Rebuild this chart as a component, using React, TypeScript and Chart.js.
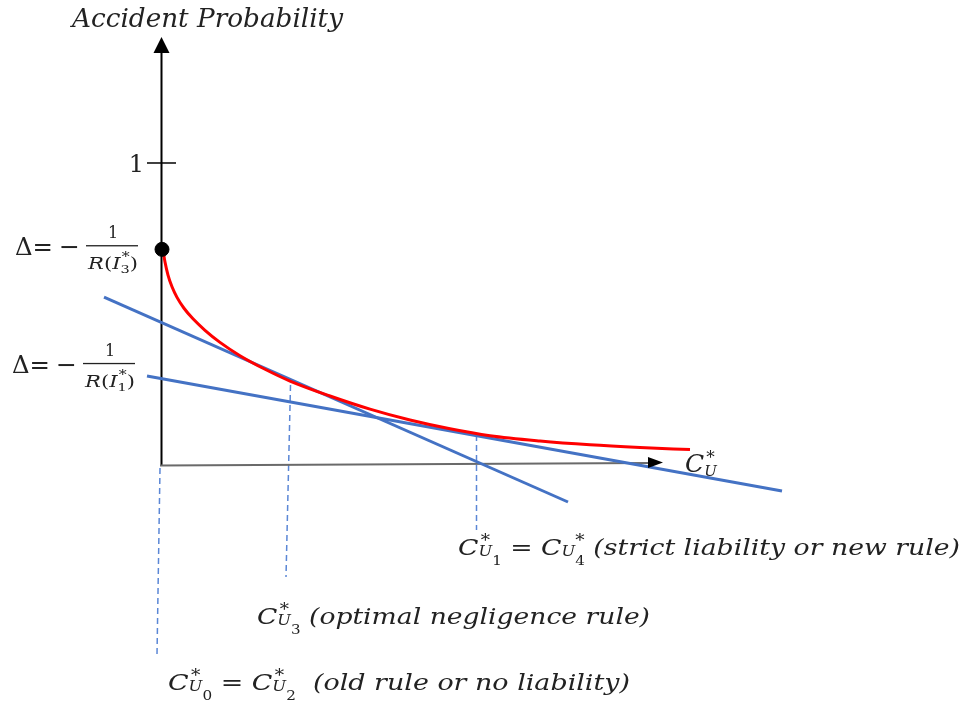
import React, { useEffect, useRef } from "react";
import { Chart, registerables } from "chart.js";

Chart.register(...registerables);

// ---- Data (x: unit cost of care C_U, y: accident probability) ----
const curveX = [0.03, 0.07, 0.13, 0.21, 0.31, 0.45, 0.63, 0.87, 1.17, 1.57, 2.07, 2.57, 3.37, 4.17, 4.97, 5.77, 6.57, 7.57, 8.57, 9.57, 10.57];
const curveY = [0.712, 0.672, 0.629, 0.59, 0.555, 0.519, 0.484, 0.446, 0.406, 0.362, 0.317, 0.278, 0.2285, 0.185, 0.149, 0.12, 0.097, 0.0795, 0.067, 0.058, 0.051];
const steepLineX = [-1.15, 8.13];
const steepLineY = [0.556, -0.1225];
const flatLineX = [-0.29, 12.41];
const flatLineY = [0.295, -0.086];
const guide0X = [-0.03, -0.09];
const guide0Y = [-0.01, -0.629];
const guide3X = [2.58, 2.49];
const guide3Y = [0.265, -0.371];
const guide1X = [6.3, 6.3];
const guide1Y = [0.099, -0.215];
const xAxisX = [-0.03, 9.75];
const xAxisY = [-0.0017, 0.007];
const xArrowTip = [10.03, 0.0083];
const yAxisX = [0, 0];
const yAxisY = [0, 1.38];
const yArrowTip = [0, 1.417];
const tickX = [-0.29, 0.29];
const tickY = [1, 1];
const tickLabels = ["1"];
const dotX = [0.01];
const dotY = [0.714];

const X_MIN = -3.23;
const X_MAX = 16.15;
const Y_MIN = -0.8046;
const Y_MAX = 1.5397;

const FAMILY = '"DejaVu Serif", serif';
const TEXT = "#222222";
const BLUE = "#4472C4";
const GUIDE = "#5b87d6";

const zip = (xs: number[], ys: number[]) => xs.map((x, i) => ({ x, y: ys[i] }));

type Run = { t: string; s: number; dy?: number; it?: boolean; adv?: boolean; dx?: number };

function fontOf(r: Run) {
  return `${r.it ? "italic " : ""}${r.s}px ${FAMILY}`;
}
function runsWidth(ctx: CanvasRenderingContext2D, runs: Run[]) {
  let w = 0;
  for (const r of runs) {
    ctx.font = fontOf(r);
    const m = ctx.measureText(r.t).width;
    if (r.adv !== false) w += m + (r.dx || 0);
  }
  return w;
}
function drawRuns(ctx: CanvasRenderingContext2D, x: number, y: number, runs: Run[], targetW?: number) {
  const w = runsWidth(ctx, runs);
  const k = targetW ? targetW / w : 1;
  ctx.save();
  ctx.translate(x, y);
  ctx.scale(k, 1);
  ctx.fillStyle = TEXT;
  ctx.textBaseline = "alphabetic";
  ctx.textAlign = "left";
  let cx = 0;
  for (const r of runs) {
    ctx.font = fontOf(r);
    const m = ctx.measureText(r.t).width;
    ctx.fillText(r.t, cx + (r.dx || 0), r.dy || 0);
    if (r.adv !== false) cx += m + (r.dx || 0);
  }
  ctx.restore();
}

function arrowHead(ctx: CanvasRenderingContext2D, fx: number, fy: number, tx: number, ty: number, len: number, half: number) {
  const dx = tx - fx;
  const dy = ty - fy;
  const d = Math.hypot(dx, dy) || 1;
  const ux = dx / d;
  const uy = dy / d;
  const bx = tx - ux * len;
  const by = ty - uy * len;
  ctx.beginPath();
  ctx.moveTo(tx, ty);
  ctx.lineTo(bx - uy * half, by + ux * half);
  ctx.lineTo(bx + uy * half, by - ux * half);
  ctx.closePath();
  ctx.fillStyle = "#000";
  ctx.fill();
}

const annotations = {
  id: "annotations",
  afterDatasetsDraw(chart: any) {
    const ctx: CanvasRenderingContext2D = chart.ctx;
    const sx = chart.scales.x;
    const sy = chart.scales.y;
    const px = (v: number) => sx.getPixelForValue(v);
    const py = (v: number) => sy.getPixelForValue(v);

    // axis arrow heads
    arrowHead(ctx, px(xAxisX[0]), py(xAxisY[0]), px(xArrowTip[0]), py(xArrowTip[1]), 15, 5.5);
    arrowHead(ctx, px(yAxisX[0]), py(yAxisY[0]), px(yArrowTip[0]), py(yArrowTip[1]), 16, 8);

    // axis title
    drawRuns(ctx, px(-1.79), py(1.45), [{ t: "Accident Probability", s: 26, it: true }], 271);

    // tick label "1"
    ctx.save();
    ctx.font = `24px ${FAMILY}`;
    ctx.fillStyle = TEXT;
    ctx.textAlign = "right";
    ctx.textBaseline = "alphabetic";
    ctx.fillText(tickLabels[0], px(tickX[0]) - 3, py(tickY[0]) + 9);
    ctx.restore();

    // Delta labels
    const deltaLabel = (ax: number, ay: number, sub: string) => {
      const x = px(ax);
      const y = py(ay);
      drawRuns(ctx, x, y, [{ t: "Δ=", s: 25 }], 38);
      drawRuns(ctx, x + 44, y, [{ t: "−", s: 25 }]);
      ctx.fillStyle = TEXT;
      ctx.fillRect(x + 71, y - 10, 52, 1.3);
      ctx.save();
      ctx.font = `16px ${FAMILY}`;
      ctx.textAlign = "center";
      ctx.fillStyle = TEXT;
      ctx.fillText("1", x + 98, y - 17);
      ctx.restore();
      const den: Run[] = [
        { t: "R", s: 16, it: true },
        { t: "(", s: 16 },
        { t: "I", s: 16, it: true },
        { t: "*", s: 12, dy: -8, adv: false, dx: 1 },
        { t: sub, s: 11, dy: 4 },
        { t: ")", s: 16 },
      ];
      drawRuns(ctx, x + 73, y + 14, den, 50);
    };
    deltaLabel(-2.93, 0.695, "3");
    deltaLabel(-2.99, 0.305, "1");

    // C*_U axis label
    drawRuns(ctx, px(10.47), py(-0.023), [
      { t: "C", s: 25, it: true },
      { t: "*", s: 17, dy: -9, adv: false, dx: 2 },
      { t: "U", s: 15, it: true, dy: 4 },
    ]);

    // Bottom labels
    drawRuns(
      ctx,
      px(5.93),
      py(-0.298),
      [
        { t: "C", s: 23, it: true },
        { t: "*", s: 16, dy: -9, adv: false, dx: 2 },
        { t: "U", s: 14, it: true, dy: 1 },
        { t: "1", s: 13, dy: 10 },
        { t: " = ", s: 23 },
        { t: "C", s: 23, it: true },
        { t: "U", s: 14, it: true, dy: 1 },
        { t: "*", s: 16, dy: -9, adv: false },
        { t: "4", s: 13, dy: 10 },
        { t: " (strict liability or new rule)", s: 23, it: true },
      ],
      502
    );
    drawRuns(
      ctx,
      px(1.91),
      py(-0.525),
      [
        { t: "C", s: 23, it: true },
        { t: "*", s: 16, dy: -9, adv: false, dx: 2 },
        { t: "U", s: 14, it: true, dy: 1 },
        { t: "3", s: 13, dy: 10 },
        { t: " (optimal negligence rule)", s: 23, it: true },
      ],
      393
    );
    drawRuns(
      ctx,
      px(0.13),
      py(-0.745),
      [
        { t: "C", s: 23, it: true },
        { t: "*", s: 16, dy: -9, adv: false, dx: 2 },
        { t: "U", s: 14, it: true, dy: 1 },
        { t: "0", s: 13, dy: 10 },
        { t: " = ", s: 23 },
        { t: "C", s: 23, it: true },
        { t: "*", s: 16, dy: -9, adv: false, dx: 2 },
        { t: "U", s: 14, it: true, dy: 1 },
        { t: "2", s: 13, dy: 10 },
        { t: "  (old rule or no liability)", s: 23, it: true },
      ],
      462
    );
  },
};

export default function App() {
  const ref = useRef<HTMLCanvasElement | null>(null);
  useEffect(() => {
    document.body.style.margin = "0";
    if (!ref.current) return;
    const line = (data: any[], color: string, width: number, extra: any = {}) => ({
      data,
      showLine: true,
      borderColor: color,
      backgroundColor: color,
      borderWidth: width,
      pointRadius: 0,
      fill: false,
      ...extra,
    });
    const chart = new Chart(ref.current, {
      type: "scatter",
      data: {
        datasets: [
          {
            data: zip(dotX, dotY),
            showLine: false,
            pointRadius: 7,
            pointBackgroundColor: "#000",
            pointBorderColor: "#000",
          },
          line(zip(curveX, curveY), "#ff0000", 3, { tension: 0.4, cubicInterpolationMode: "monotone" }),
          line(zip(steepLineX, steepLineY), BLUE, 3),
          line(zip(flatLineX, flatLineY), BLUE, 3),
          line(zip(xAxisX, xAxisY), "#6a6a6a", 2),
          line(zip(yAxisX, yAxisY), "#000", 2),
          line(zip(tickX, tickY), "#000", 1.5),
          line(zip(guide0X, guide0Y), GUIDE, 1.5, { borderDash: [6, 4] }),
          line(zip(guide3X, guide3Y), GUIDE, 1.5, { borderDash: [6, 4] }),
          line(zip(guide1X, guide1Y), GUIDE, 1.5, { borderDash: [6, 4] }),
        ],
      },
      options: {
        responsive: false,
        animation: false,
        events: [],
        layout: { padding: 0, autoPadding: false },
        plugins: {
          legend: { display: false },
          tooltip: { enabled: false },
          title: { display: false },
        },
        scales: {
          x: { type: "linear", min: X_MIN, max: X_MAX, display: false },
          y: { type: "linear", min: Y_MIN, max: Y_MAX, display: false },
        },
      },
      plugins: [annotations],
    });
    return () => chart.destroy();
  }, []);
  return (
    <div style={{ width: 969, height: 708, background: "#fff" }}>
      <canvas ref={ref} width={969} height={708} style={{ display: "block" }} />
    </div>
  );
}
